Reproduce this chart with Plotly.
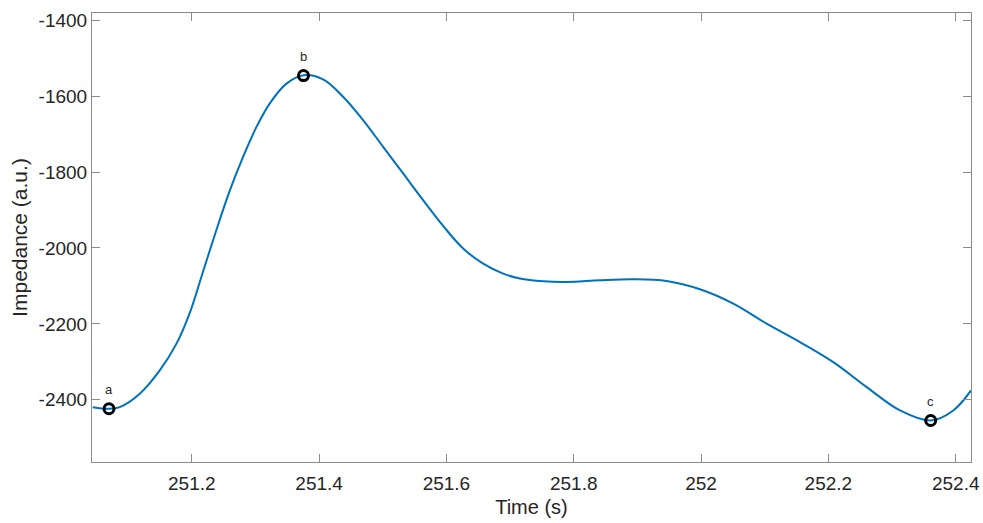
import plotly.graph_objects as go

# Curve samples (time in s, impedance in a.u.)
time_s = [251.0444, 251.070, 251.0869, 251.1183, 251.1497, 251.176, 251.1969,
          251.2178, 251.2388, 251.2597, 251.2806, 251.3017, 251.3226, 251.3488,
          251.3755, 251.4063, 251.4377, 251.4691, 251.5006, 251.532, 251.5634,
          251.5949, 251.6263, 251.6577, 251.6892, 251.7154, 251.7525, 251.7888,
          251.8411, 251.8934, 251.9459, 251.9982, 252.0506, 252.103, 252.1554,
          252.2077, 252.2602, 252.3125, 252.3607, 252.3962, 252.424]
impedance = [-2419.5, -2423.7, -2419.5, -2384.2, -2322.7, -2252.2, -2171.0,
             -2062.0, -1952.0, -1849.0, -1760.0, -1681.0, -1619.0, -1567.0,
             -1545.0, -1556.0, -1601.6, -1663.1, -1733.5, -1803.7, -1874.1,
             -1942.0, -2001.6, -2041.2, -2067.5, -2080.7, -2088.0, -2089.7,
             -2085.2, -2082.6, -2087.1, -2109.0, -2146.7, -2199.5, -2248.0,
             -2300.8, -2366.7, -2428.2, -2454.6, -2428.2, -2375.5]

# Marked points
mark_t = [251.070, 251.3755, 252.3607]
mark_v = [-2423.7, -1546.0, -2454.6]
mark_labels = ["a", "b", "c"]

x_ticks = [251.2, 251.4, 251.6, 251.8, 252.0, 252.2, 252.4]
x_tick_text = ["251.2", "251.4", "251.6", "251.8", "252", "252.2", "252.4"]
y_ticks = [-2400, -2200, -2000, -1800, -1600, -1400]
y_tick_text = ["-2400", "-2200", "-2000", "-1800", "-1600", "-1400"]

FONT = "Liberation Sans, Arial, sans-serif"

fig = go.Figure()
fig.add_trace(go.Scatter(
    x=time_s, y=impedance, mode="lines",
    line=dict(color="#0072BD", width=2, shape="spline", smoothing=1.0),
    showlegend=False, hoverinfo="skip"))
fig.add_trace(go.Scatter(
    x=mark_t, y=mark_v, mode="markers",
    marker=dict(symbol="circle-open", size=10, color="black", line=dict(width=3, color="black")),
    showlegend=False))

for t, v, lab in zip(mark_t, mark_v, mark_labels):
    fig.add_annotation(x=t, y=v, text=lab, showarrow=False, yshift=19,
                       font=dict(family=FONT, size=13, color="#262626"))

axis_common = dict(
    showgrid=False, zeroline=False, showline=True, mirror="ticks",
    linecolor="#8c8c8c", linewidth=1, ticks="inside", ticklen=8,
    tickcolor="#8c8c8c", tickwidth=1, automargin=False,
    tickfont=dict(family=FONT, size=19, color="#262626"),
)

fig.update_layout(
    width=983, height=523,
    margin=dict(l=92, r=12, t=13, b=61),
    paper_bgcolor="white", plot_bgcolor="white",
    xaxis=dict(range=[251.0433, 252.424], tickvals=x_ticks, ticktext=x_tick_text,
               ticklabelstandoff=4,
               title=dict(text="Time (s)", standoff=7,
                          font=dict(family=FONT, size=20, color="#262626")),
               **axis_common),
    yaxis=dict(range=[-2564, -1381], tickvals=y_ticks, ticktext=y_tick_text,
               title=dict(text="Impedance (a.u.)", standoff=5,
                          font=dict(family=FONT, size=21, color="#262626")),
               **axis_common),
)

fig.write_html("out.html")
